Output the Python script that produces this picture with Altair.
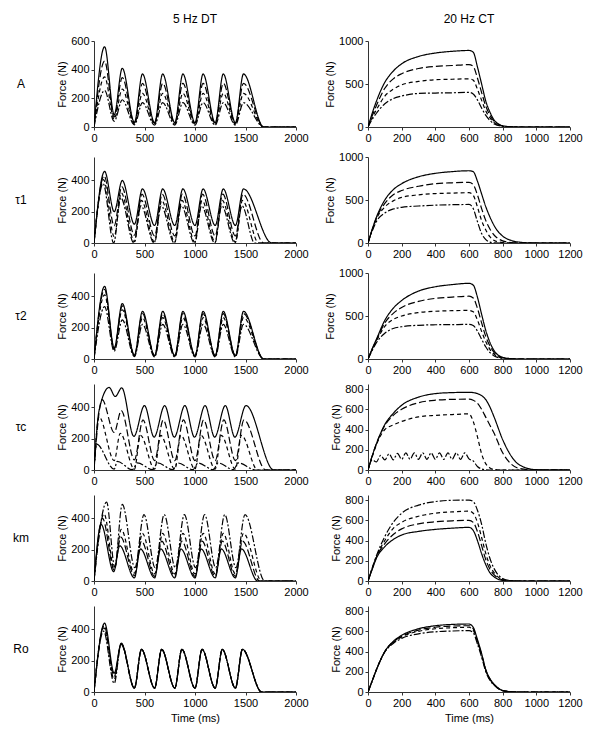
import altair as alt
import pandas as pd

FONT = "Liberation Sans"
SERIES = ["s1", "s2", "s3", "s4"]
DASHES = [[1, 0], [7, 3], [4, 3], [7, 2, 2, 2]]

ROW_LABELS = ["A", "τ1", "τ2", "τc", "km", "Ro"]
COL_TITLES = ["5 Hz DT", "20 Hz CT"]

DT_TICKS = [0, 500, 1000, 1500, 2000]
CT_TICKS = [0, 200, 400, 600, 800, 1000, 1200]
DT_YMAX = [600, 550, 550, 550, 550, 550]
DT_YTICKS = [[0, 200, 400, 600], [0, 200, 400], [0, 200, 400], [0, 200, 400], [0, 200, 400], [0, 200, 400]]
CT_YMAX = [1000, 1000, 1000, 850, 850, 850]
CT_YTICKS = [[0, 500, 1000], [0, 500, 1000], [0, 500, 1000],
             [0, 200, 400, 600, 800], [0, 200, 400, 600, 800], [0, 200, 400, 600, 800]]

# ---------------- 5 Hz DT (peak / trough points) ----------------
A_DT_T = [0, 105, 200, 280, 400, 480, 600, 680, 800, 880, 1000, 1080, 1200, 1280, 1400, 1480, 1680, 2000]
A_DT_1 = [0, 560, 85, 410, 32, 370, 30, 370, 30, 370, 30, 370, 30, 370, 30, 370, 0, 0]
A_DT_2 = [0, 460, 70, 345, 27, 305, 25, 305, 25, 305, 25, 305, 25, 305, 25, 305, 0, 0]
A_DT_3 = [0, 350, 55, 265, 22, 235, 20, 235, 20, 235, 20, 235, 20, 235, 20, 235, 0, 0]
A_DT_4 = [0, 255, 40, 190, 15, 170, 13, 170, 13, 170, 13, 170, 13, 170, 13, 170, 0, 0]

T1_DT_T1 = [0, 105, 200, 280, 400, 480, 600, 680, 800, 880, 1000, 1080, 1200, 1280, 1400, 1480, 1760, 2000]
T1_DT_1 = [0, 458, 200, 400, 120, 346, 112, 346, 112, 346, 112, 346, 112, 346, 112, 346, 0, 0]
T1_DT_T2 = [0, 100, 200, 275, 400, 475, 600, 675, 800, 875, 1000, 1075, 1200, 1275, 1400, 1475, 1680, 2000]
T1_DT_2 = [0, 430, 110, 360, 50, 312, 45, 312, 45, 312, 45, 312, 45, 312, 45, 312, 0, 0]
T1_DT_T3 = [0, 95, 200, 270, 400, 470, 600, 670, 800, 870, 1000, 1070, 1200, 1270, 1400, 1470, 1630, 2000]
T1_DT_3 = [0, 405, 40, 320, 8, 272, 5, 272, 5, 272, 5, 272, 5, 272, 5, 272, 0, 0]
T1_DT_T4 = [0, 90, 195, 265, 395, 465, 595, 665, 795, 865, 995, 1065, 1195, 1265, 1395, 1465, 1590, 2000]
T1_DT_4 = [0, 380, 0, 290, 0, 238, 0, 238, 0, 238, 0, 238, 0, 238, 0, 238, 0, 0]

T2_DT_T = [0, 105, 200, 280, 400, 480, 600, 680, 800, 880, 1000, 1080, 1200, 1280, 1400, 1480, 1680, 2000]
T2_DT_1 = [0, 465, 70, 355, 25, 305, 22, 305, 22, 305, 22, 305, 22, 305, 22, 305, 0, 0]
T2_DT_2 = [0, 445, 65, 340, 22, 290, 20, 290, 20, 290, 20, 290, 20, 290, 20, 290, 0, 0]
T2_DT_3 = [0, 410, 60, 315, 20, 265, 18, 265, 18, 265, 18, 265, 18, 265, 18, 265, 0, 0]
T2_DT_4 = [0, 335, 50, 250, 15, 222, 13, 222, 13, 222, 13, 222, 13, 222, 13, 222, 0, 0]

TC_DT_T1 = [0, 50, 150, 210, 275, 395, 500, 595, 700, 795, 900, 995, 1100, 1195, 1300, 1395, 1505, 1780, 2000]
TC_DT_1 = [0, 380, 528, 470, 525, 215, 412, 210, 412, 210, 412, 210, 412, 210, 412, 210, 412, 0, 0]
TC_DT_T2 = [0, 80, 200, 270, 400, 485, 600, 685, 800, 885, 1000, 1085, 1200, 1285, 1400, 1485, 1700, 2000]
TC_DT_2 = [0, 450, 240, 380, 65, 320, 60, 320, 60, 320, 60, 320, 60, 320, 60, 320, 0, 0]
TC_DT_T3 = [0, 50, 200, 260, 400, 460, 600, 660, 800, 860, 1000, 1060, 1200, 1260, 1400, 1460, 1620, 2000]
TC_DT_3 = [0, 340, 60, 235, 5, 222, 5, 222, 5, 222, 5, 222, 5, 222, 5, 222, 0, 0]
TC_DT_T4 = [0, 25, 200, 230, 380, 430, 580, 630, 780, 830, 980, 1030, 1180, 1230, 1380, 1430, 1600, 2000]
TC_DT_4 = [0, 165, 5, 55, 2, 45, 2, 45, 2, 45, 2, 45, 2, 45, 2, 45, 0, 0]

KM_DT_T1 = [0, 70, 195, 255, 400, 460, 600, 660, 800, 860, 1000, 1060, 1200, 1260, 1400, 1460, 1620, 2000]
KM_DT_1 = [0, 362, 60, 225, 20, 205, 20, 205, 20, 205, 20, 205, 20, 205, 20, 205, 0, 0]
KM_DT_T2 = [0, 85, 200, 265, 400, 470, 600, 670, 800, 870, 1000, 1070, 1200, 1270, 1400, 1470, 1640, 2000]
KM_DT_2 = [0, 400, 70, 280, 35, 255, 30, 255, 30, 255, 30, 255, 30, 255, 30, 255, 0, 0]
KM_DT_T3 = [0, 100, 200, 270, 400, 480, 600, 680, 800, 880, 1000, 1080, 1200, 1280, 1400, 1480, 1660, 2000]
KM_DT_3 = [0, 430, 80, 330, 50, 305, 45, 305, 45, 305, 45, 305, 45, 305, 45, 305, 0, 0]
KM_DT_T4 = [0, 125, 205, 280, 405, 495, 605, 695, 805, 895, 1005, 1095, 1205, 1295, 1405, 1495, 1690, 2000]
KM_DT_4 = [0, 505, 90, 490, 85, 425, 85, 425, 85, 425, 85, 425, 85, 425, 85, 425, 0, 0]

RO_DT_T1 = [0, 105, 200, 270, 400, 470, 600, 670, 800, 870, 1000, 1070, 1200, 1270, 1400, 1470, 1660, 2000]
RO_DT_1 = [0, 440, 120, 312, 25, 273, 25, 273, 25, 273, 25, 273, 25, 273, 25, 273, 0, 0]
RO_DT_T2 = [0, 100, 200, 270, 400, 470, 600, 670, 800, 870, 1000, 1070, 1200, 1270, 1400, 1470, 1660, 2000]
RO_DT_2 = [0, 425, 100, 310, 25, 273, 25, 273, 25, 273, 25, 273, 25, 273, 25, 273, 0, 0]
RO_DT_T3 = [0, 97, 200, 270, 400, 470, 600, 670, 800, 870, 1000, 1070, 1200, 1270, 1400, 1470, 1660, 2000]
RO_DT_3 = [0, 410, 80, 308, 25, 273, 25, 273, 25, 273, 25, 273, 25, 273, 25, 273, 0, 0]
RO_DT_T4 = [0, 95, 200, 268, 400, 470, 600, 670, 800, 870, 1000, 1070, 1200, 1270, 1400, 1470, 1660, 2000]
RO_DT_4 = [0, 390, 55, 305, 25, 272, 25, 272, 25, 272, 25, 272, 25, 272, 25, 272, 0, 0]

# ---------------- 20 Hz CT ----------------
CT_T = [0, 25, 50, 100, 150, 200, 300, 400, 500, 600, 625, 650, 675, 700, 725, 750, 800, 850, 900, 1000, 1200]

A_CT_1 = [0, 160, 300, 520, 650, 735, 820, 860, 880, 890, 870, 700, 500, 300, 170, 80, 15, 2, 0, 0, 0]
A_CT_2 = [0, 130, 250, 450, 560, 620, 680, 705, 715, 725, 705, 570, 400, 240, 135, 65, 12, 2, 0, 0, 0]
A_CT_3 = [0, 110, 200, 360, 440, 490, 530, 550, 555, 560, 545, 440, 310, 185, 105, 50, 10, 2, 0, 0, 0]
A_CT_4 = [0, 90, 160, 270, 330, 360, 390, 395, 398, 402, 385, 315, 220, 135, 75, 35, 8, 1, 0, 0, 0]

T1_CT_1 = [0, 160, 300, 500, 620, 690, 770, 810, 830, 840, 830, 720, 570, 420, 300, 200, 80, 30, 10, 0, 0]
T1_CT_2 = [0, 155, 290, 460, 560, 610, 660, 690, 700, 705, 680, 560, 400, 260, 160, 90, 25, 5, 0, 0, 0]
T1_CT_3 = [0, 150, 280, 420, 490, 530, 560, 575, 580, 585, 555, 420, 260, 150, 70, 30, 5, 0, 0, 0, 0]
T1_CT_4 = [0, 140, 250, 350, 395, 415, 430, 440, 445, 448, 400, 250, 110, 40, 10, 2, 0, 0, 0, 0, 0]

T2_CT_1 = [0, 120, 230, 450, 590, 680, 790, 840, 865, 880, 860, 720, 520, 330, 190, 95, 20, 4, 0, 0, 0]
T2_CT_2 = [0, 115, 220, 420, 530, 600, 670, 705, 720, 730, 710, 590, 420, 260, 150, 75, 15, 3, 0, 0, 0]
T2_CT_3 = [0, 110, 210, 380, 460, 500, 540, 555, 562, 565, 550, 455, 320, 200, 110, 55, 10, 2, 0, 0, 0]
T2_CT_4 = [0, 100, 190, 300, 355, 375, 392, 398, 400, 402, 390, 325, 230, 140, 75, 35, 8, 1, 0, 0, 0]

TC_CT_1 = [0, 140, 260, 450, 560, 640, 720, 755, 765, 768, 765, 755, 735, 695, 620, 520, 300, 140, 50, 3, 0]
TC_CT_2 = [0, 140, 260, 440, 540, 600, 665, 690, 698, 700, 690, 660, 600, 520, 440, 360, 170, 60, 15, 0, 0]
TC_CT_3 = [0, 130, 250, 400, 445, 480, 525, 540, 548, 555, 480, 330, 160, 60, 20, 5, 0, 0, 0, 0, 0]
TC_CT_T4 = [0, 25, 50, 75, 100, 125, 150, 175, 200, 225, 250, 275, 300, 325, 350, 375, 400, 425, 450,
            475, 500, 525, 550, 575, 600, 625, 650, 675, 700, 750, 1200]
TC_CT_4 = [0, 100, 80, 145, 100, 160, 100, 165, 105, 170, 105, 170, 105, 170, 105, 170, 105, 170, 105,
           170, 105, 170, 105, 170, 110, 90, 35, 10, 2, 0, 0]

KM_CT_1 = [0, 115, 225, 340, 410, 455, 490, 510, 522, 530, 500, 400, 270, 160, 80, 40, 5, 0, 0, 0, 0]
KM_CT_2 = [0, 120, 235, 370, 460, 515, 565, 585, 595, 600, 580, 490, 350, 210, 115, 60, 12, 2, 0, 0, 0]
KM_CT_3 = [0, 125, 240, 400, 520, 580, 640, 670, 683, 690, 670, 580, 430, 270, 150, 80, 15, 2, 0, 0, 0]
KM_CT_4 = [0, 130, 250, 440, 580, 670, 750, 785, 798, 800, 785, 700, 560, 370, 220, 120, 25, 3, 0, 0, 0]

RO_CT_1 = [0, 110, 220, 400, 500, 560, 625, 655, 668, 672, 640, 520, 380, 220, 130, 75, 15, 2, 0, 0, 0]
RO_CT_2 = [0, 110, 220, 400, 495, 550, 612, 640, 652, 655, 625, 505, 370, 215, 125, 72, 14, 2, 0, 0, 0]
RO_CT_3 = [0, 110, 220, 400, 490, 545, 600, 625, 635, 640, 610, 495, 360, 210, 120, 70, 14, 2, 0, 0, 0]
RO_CT_4 = [0, 110, 220, 395, 480, 530, 575, 595, 603, 607, 585, 475, 345, 200, 115, 65, 13, 2, 0, 0, 0]

DT_PANELS = [
    [(A_DT_T, A_DT_1), (A_DT_T, A_DT_2), (A_DT_T, A_DT_3), (A_DT_T, A_DT_4)],
    [(T1_DT_T1, T1_DT_1), (T1_DT_T2, T1_DT_2), (T1_DT_T3, T1_DT_3), (T1_DT_T4, T1_DT_4)],
    [(T2_DT_T, T2_DT_1), (T2_DT_T, T2_DT_2), (T2_DT_T, T2_DT_3), (T2_DT_T, T2_DT_4)],
    [(TC_DT_T1, TC_DT_1), (TC_DT_T2, TC_DT_2), (TC_DT_T3, TC_DT_3), (TC_DT_T4, TC_DT_4)],
    [(KM_DT_T1, KM_DT_1), (KM_DT_T2, KM_DT_2), (KM_DT_T3, KM_DT_3), (KM_DT_T4, KM_DT_4)],
    [(RO_DT_T1, RO_DT_1), (RO_DT_T2, RO_DT_2), (RO_DT_T3, RO_DT_3), (RO_DT_T4, RO_DT_4)],
]
CT_PANELS = [
    [(CT_T, A_CT_1), (CT_T, A_CT_2), (CT_T, A_CT_3), (CT_T, A_CT_4)],
    [(CT_T, T1_CT_1), (CT_T, T1_CT_2), (CT_T, T1_CT_3), (CT_T, T1_CT_4)],
    [(CT_T, T2_CT_1), (CT_T, T2_CT_2), (CT_T, T2_CT_3), (CT_T, T2_CT_4)],
    [(CT_T, TC_CT_1), (CT_T, TC_CT_2), (CT_T, TC_CT_3), (TC_CT_T4, TC_CT_4)],
    [(CT_T, KM_CT_1), (CT_T, KM_CT_2), (CT_T, KM_CT_3), (CT_T, KM_CT_4)],
    [(CT_T, RO_CT_1), (CT_T, RO_CT_2), (CT_T, RO_CT_3), (CT_T, RO_CT_4)],
]

W, H = 202, 86


def panel_df(series):
    rows = []
    for name, (ts, fs) in zip(SERIES, series):
        for t, f in zip(ts, fs):
            rows.append({"t": t, "f": f, "s": name})
    return pd.DataFrame(rows)


def make_cell(series, xmax, xticks, ymax, yticks, row, col):
    df = panel_df(series)
    xaxis = alt.Axis(values=xticks, title="Time (ms)" if row == 5 else "", format="d")
    yaxis = alt.Axis(values=yticks, title="Force (N)", format="d")
    line = alt.Chart(df).mark_line(
        interpolate="monotone", color="black", strokeWidth=1.2, clip=True
    ).encode(
        x=alt.X("t:Q", scale=alt.Scale(domain=[0, xmax], nice=False), axis=xaxis),
        y=alt.Y("f:Q", scale=alt.Scale(domain=[0, ymax], nice=False), axis=yaxis),
        strokeDash=alt.StrokeDash("s:N", scale=alt.Scale(domain=SERIES, range=DASHES), legend=None),
    )
    layers = [line]
    if col == 0:
        lab = alt.Chart(pd.DataFrame({"lab": [ROW_LABELS[row]]})).mark_text(
            font=FONT, fontSize=12, align="center", baseline="middle", color="black"
        ).encode(text="lab:N", x=alt.value(-73), y=alt.value(H / 2))
        layers.append(lab)
    props = dict(width=W, height=H)
    if row == 0:
        props["title"] = alt.TitleParams(COL_TITLES[col], fontSize=12, font=FONT,
                                         fontWeight="normal", offset=9, anchor="middle")
    return alt.layer(*layers).properties(**props)


cells = []
for r in range(6):
    cells.append(make_cell(DT_PANELS[r], 2000, DT_TICKS, DT_YMAX[r], DT_YTICKS[r], r, 0))
    cells.append(make_cell(CT_PANELS[r], 1200, CT_TICKS, CT_YMAX[r], CT_YTICKS[r], r, 1))

chart = alt.concat(*cells, columns=2, spacing={"row": 8, "column": 15}).configure_view(
    stroke=None
).configure_axis(
    grid=False, domainColor="#333333", tickColor="#333333", tickSize=3,
    labelFont=FONT, titleFont=FONT, labelFontSize=11, titleFontSize=11,
    titleFontWeight="normal", labelColor="black", titleColor="black",
    labelPadding=2, titlePadding=3,
).configure_axisX(labelFlush=False, titlePadding=4)

chart.save("out.html", embed_options={"renderer": "svg", "actions": False})
